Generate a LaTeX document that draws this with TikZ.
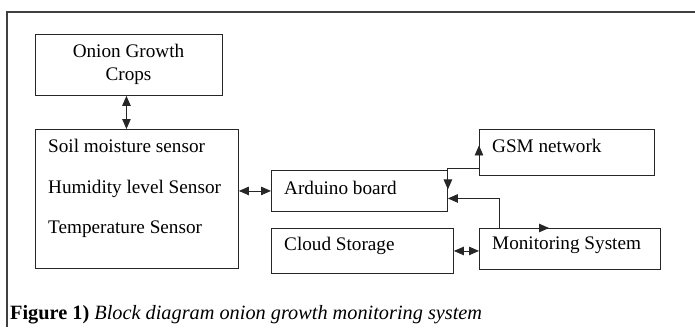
\documentclass[tikz,border=0pt]{standalone}
\usepackage{fontspec}
\setmainfont{Liberation Serif}
\usetikzlibrary{arrows.meta}
\tikzset{
  box/.style={draw=black!85, line width=0.9pt, rectangle, inner sep=0pt, anchor=north west},
  lbl/.style={anchor=base west, inner sep=0pt, font=\fontsize{19.2}{23}\selectfont},
  conn/.style={draw=black!85, line width=0.9pt, {Triangle[length=10pt,width=8.5pt]}-{Triangle[length=10pt,width=8.5pt]}}
}
\begin{document}
\begin{tikzpicture}[x=1pt,y=-1pt]
\useasboundingbox (0,0) rectangle (695,327);
% outer frame
\draw[line width=1.4pt, draw=black!75] (695,12) -- (7,12) -- (7,327);
% boxes
\node[box, minimum width=187pt, minimum height=61pt] (onion) at (35,34) {};
\node[box, minimum width=203pt, minimum height=139pt] (sens) at (35,129) {};
\node[box, minimum width=176pt, minimum height=41pt] (ard) at (271,170) {};
\node[box, minimum width=182pt, minimum height=45pt] (cloud) at (271,228) {};
\node[box, minimum width=175pt, minimum height=46pt] (gsm) at (479,129) {};
\node[box, minimum width=181pt, minimum height=41pt] (mon) at (479,228) {};
% texts
\node[anchor=center, align=center, inner sep=0pt, font=\fontsize{19.2}{23}\selectfont] (t0) at (128.5,64) {Onion Growth\\Crops};
\node[lbl] (t1) at (48,152) {Soil moisture sensor};
\node[lbl] (t2) at (48,193) {Humidity level Sensor};
\node[lbl] (t3) at (48,233) {Temperature Sensor};
\node[lbl] (t4) at (284,194) {Arduino board};
\node[lbl] (t5) at (284,250) {Cloud Storage};
\node[lbl] (t6) at (492,152) {GSM network};
\node[lbl] (t7) at (492,249) {Monitoring System};
% caption
\node[anchor=base west, inner sep=0pt, font=\fontsize{20.3}{24}\selectfont] (cap) at (10,319) {\textbf{Figure 1)} \textit{Block diagram onion growth monitoring system}};
% connectors
\draw[conn] ([xshift=-2.5pt]onion.south) -- ([xshift=-2.5pt]onion.south |- sens.north);
\draw[conn] (sens.east |- ard.west) -- (ard.west);
\draw[conn] (cloud.east) -- (cloud.east -| mon.west);
\draw[conn] ([yshift=1.5pt]ard.east) |- ([yshift=7pt]gsm.south west) -- ([yshift=7pt]gsm.west);
\draw[conn] ([yshift=-7.5pt]ard.east) -| ([xshift=20pt]mon.north west) -- ([xshift=70pt]mon.north west);
\end{tikzpicture}
\end{document}
